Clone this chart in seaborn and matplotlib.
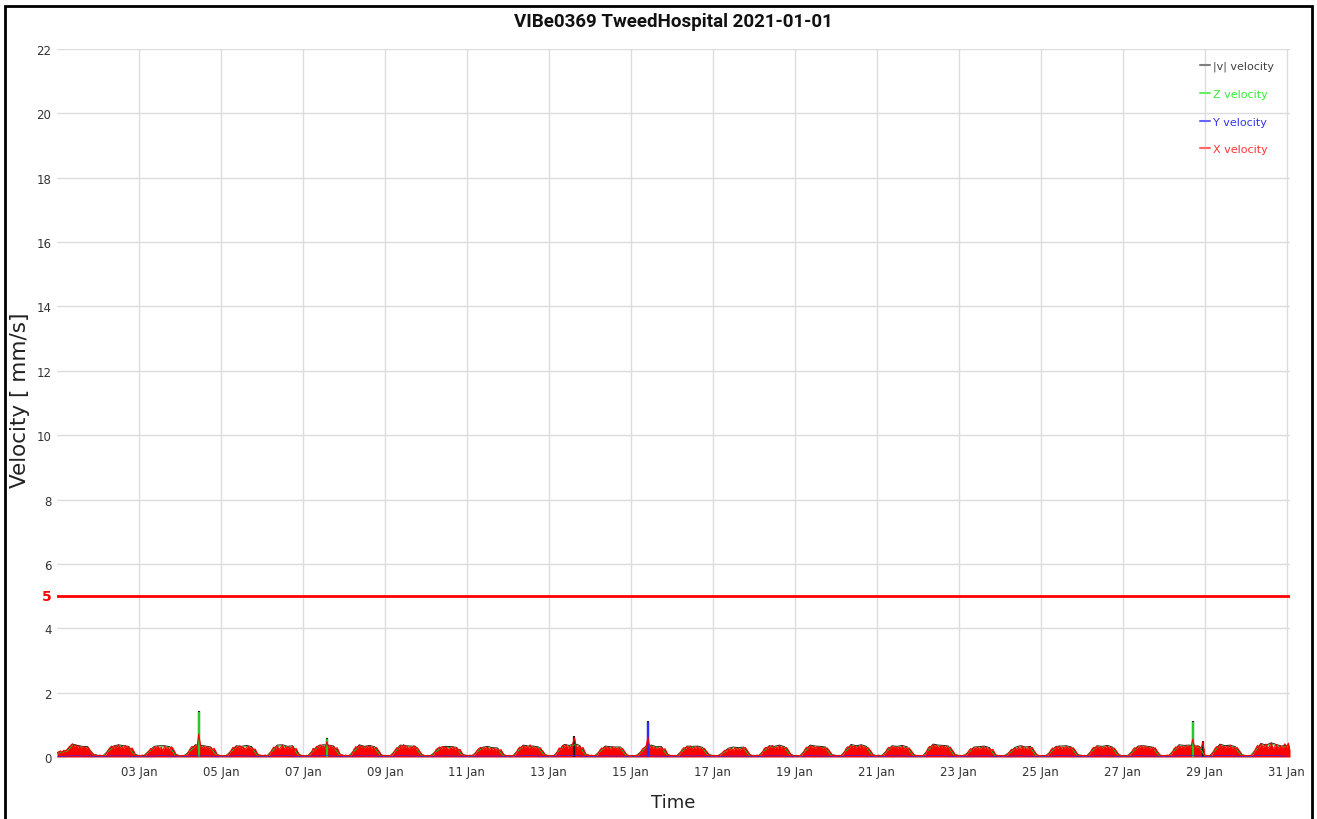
import numpy as np
import pandas as pd
import matplotlib
matplotlib.use("Agg")
import matplotlib.pyplot as plt
import matplotlib.dates as mdates
import matplotlib.transforms as mtransforms
from matplotlib.lines import Line2D
from matplotlib.patches import Rectangle
import seaborn as sns

# ---------------- data ----------------
title = "VIBe0369 TweedHospital 2021-01-01"
start_time = "2021-01-01 00:00"
threshold = 5
y_ticks = [0, 2, 4, 6, 8, 10, 12, 14, 16, 18, 20, 22]
series_labels = ["|v| velocity", "Z velocity", "Y velocity", "X velocity"]

# X velocity, hourly (one row per day, hours 0..23)
x_vel = [
    0.12,0.16,0.19,0.14,0.21,0.18,0.24,0.31,0.36,0.41,0.33,0.38,0.29,0.35,0.27,0.32,0.30,0.25,0.31,0.22,0.17,0.10,0.07,0.05,
    0.04,0.06,0.03,0.05,0.04,0.11,0.22,0.29,0.34,0.26,0.35,0.30,0.37,0.28,0.33,0.25,0.36,0.29,0.31,0.24,0.28,0.18,0.06,0.04,
    0.05,0.03,0.06,0.04,0.05,0.14,0.20,0.27,0.22,0.31,0.26,0.34,0.24,0.30,0.19,0.33,0.27,0.29,0.21,0.32,0.26,0.15,0.06,0.04,
    0.03,0.05,0.04,0.06,0.05,0.16,0.26,0.33,0.29,0.37,0.31,0.71,0.35,0.28,0.34,0.27,0.32,0.25,0.30,0.23,0.27,0.17,0.05,0.04,
    0.05,0.04,0.03,0.05,0.04,0.12,0.21,0.30,0.26,0.33,0.28,0.35,0.27,0.31,0.24,0.29,0.33,0.26,0.30,0.22,0.25,0.14,0.06,0.05,
    0.04,0.05,0.06,0.03,0.05,0.13,0.24,0.31,0.27,0.34,0.23,0.30,0.36,0.25,0.32,0.28,0.31,0.26,0.33,0.21,0.27,0.16,0.07,0.04,
    0.05,0.03,0.05,0.04,0.06,0.15,0.27,0.22,0.33,0.29,0.38,0.31,0.35,0.27,0.47,0.30,0.36,0.28,0.33,0.25,0.29,0.18,0.06,0.05,
    0.04,0.06,0.04,0.05,0.03,0.14,0.25,0.32,0.28,0.36,0.30,0.34,0.26,0.33,0.29,0.35,0.27,0.31,0.24,0.30,0.22,0.15,0.05,0.04,
    0.05,0.04,0.05,0.03,0.05,0.12,0.22,0.29,0.25,0.34,0.27,0.39,0.30,0.33,0.26,0.31,0.28,0.35,0.24,0.29,0.21,0.13,0.06,0.04,
    0.04,0.05,0.03,0.06,0.04,0.13,0.23,0.27,0.31,0.24,0.33,0.28,0.30,0.22,0.29,0.26,0.32,0.23,0.28,0.20,0.24,0.14,0.05,0.04,
    0.05,0.04,0.06,0.04,0.05,0.11,0.21,0.26,0.30,0.23,0.29,0.25,0.31,0.22,0.28,0.24,0.27,0.21,0.26,0.19,0.23,0.13,0.06,0.04,
    0.04,0.05,0.04,0.03,0.05,0.14,0.25,0.31,0.27,0.35,0.29,0.33,0.26,0.38,0.28,0.32,0.25,0.30,0.23,0.29,0.21,0.15,0.05,0.04,
    0.05,0.03,0.05,0.04,0.06,0.16,0.28,0.24,0.36,0.30,0.39,0.27,0.34,0.29,0.42,0.60,0.33,0.28,0.35,0.24,0.30,0.17,0.06,0.05,
    0.04,0.06,0.04,0.05,0.04,0.12,0.22,0.28,0.25,0.32,0.27,0.30,0.23,0.31,0.26,0.29,0.24,0.30,0.22,0.27,0.20,0.12,0.05,0.04,
    0.03,0.05,0.04,0.05,0.03,0.10,0.18,0.26,0.29,0.33,0.62,0.30,0.35,0.27,0.31,0.25,0.29,0.26,0.30,0.22,0.26,0.15,0.06,0.04,
    0.05,0.04,0.05,0.03,0.05,0.13,0.23,0.29,0.26,0.32,0.28,0.34,0.25,0.30,0.27,0.33,0.24,0.29,0.22,0.27,0.20,0.14,0.05,0.04,
    0.04,0.05,0.03,0.05,0.04,0.09,0.16,0.21,0.18,0.25,0.22,0.27,0.20,0.29,0.23,0.26,0.21,0.28,0.24,0.30,0.22,0.14,0.06,0.04,
    0.05,0.04,0.06,0.04,0.05,0.14,0.25,0.30,0.27,0.33,0.29,0.36,0.26,0.31,0.28,0.35,0.27,0.32,0.24,0.30,0.23,0.15,0.05,0.04,
    0.04,0.05,0.04,0.03,0.05,0.13,0.24,0.31,0.28,0.34,0.30,0.33,0.27,0.32,0.29,0.31,0.26,0.30,0.23,0.28,0.21,0.14,0.06,0.04,
    0.05,0.04,0.05,0.04,0.06,0.14,0.26,0.32,0.29,0.36,0.31,0.34,0.28,0.33,0.30,0.37,0.27,0.32,0.25,0.29,0.22,0.15,0.05,0.04,
    0.04,0.06,0.04,0.05,0.04,0.13,0.24,0.30,0.27,0.33,0.29,0.32,0.26,0.31,0.28,0.34,0.25,0.30,0.23,0.28,0.21,0.14,0.05,0.04,
    0.05,0.04,0.05,0.03,0.05,0.15,0.27,0.33,0.30,0.38,0.32,0.36,0.29,0.34,0.31,0.35,0.28,0.33,0.26,0.31,0.23,0.16,0.06,0.04,
    0.04,0.05,0.04,0.06,0.04,0.11,0.20,0.26,0.23,0.29,0.25,0.31,0.24,0.28,0.33,0.27,0.30,0.23,0.27,0.20,0.24,0.13,0.05,0.04,
    0.05,0.04,0.03,0.05,0.04,0.10,0.18,0.24,0.21,0.28,0.23,0.30,0.22,0.35,0.25,0.29,0.22,0.32,0.24,0.30,0.21,0.13,0.06,0.04,
    0.04,0.05,0.04,0.05,0.03,0.12,0.22,0.28,0.25,0.31,0.27,0.34,0.26,0.30,0.28,0.33,0.25,0.31,0.23,0.29,0.22,0.14,0.05,0.04,
    0.05,0.04,0.05,0.04,0.05,0.13,0.24,0.30,0.27,0.33,0.28,0.32,0.26,0.31,0.29,0.34,0.26,0.30,0.24,0.28,0.21,0.14,0.05,0.04,
    0.04,0.05,0.04,0.03,0.05,0.12,0.23,0.29,0.26,0.32,0.30,0.35,0.27,0.33,0.28,0.31,0.25,0.30,0.22,0.29,0.20,0.13,0.05,0.04,
    0.05,0.04,0.06,0.04,0.05,0.13,0.25,0.31,0.28,0.35,0.30,0.33,0.28,0.36,0.32,0.34,0.30,0.55,0.33,0.29,0.35,0.31,0.27,0.48,
    0.06,0.05,0.04,0.05,0.04,0.14,0.26,0.32,0.29,0.38,0.31,0.35,0.28,0.33,0.30,0.36,0.27,0.31,0.24,0.30,0.22,0.15,0.05,0.04,
    0.05,0.04,0.05,0.04,0.06,0.15,0.27,0.36,0.28,0.42,0.30,0.34,0.40,0.27,0.33,0.44,0.26,0.31,0.39,0.25,0.36,0.28,0.33,0.41,
    0.30,0.43,0.22,
]

# Z velocity, every 3 hours (one row per day: 00,03,06,09,12,15,18,21 h)
z_vel = [
    0.12,0.14,0.19,0.36,0.33,0.30,0.29,0.08,
    0.04,0.03,0.18,0.30,0.34,0.32,0.30,0.09,
    0.03,0.04,0.17,0.30,0.31,0.32,0.29,0.08,
    0.03,0.04,0.19,0.34,0.32,0.31,0.28,0.08,
    0.03,0.03,0.17,0.31,0.30,0.32,0.29,0.07,
    0.04,0.03,0.18,0.33,0.35,0.30,0.31,0.08,
    0.03,0.04,0.19,0.31,0.34,0.33,0.31,0.09,
    0.04,0.03,0.18,0.34,0.30,0.33,0.29,0.07,
    0.03,0.03,0.17,0.33,0.32,0.31,0.30,0.07,
    0.03,0.04,0.17,0.28,0.30,0.29,0.27,0.07,
    0.04,0.03,0.16,0.27,0.30,0.26,0.25,0.06,
    0.03,0.03,0.19,0.34,0.31,0.31,0.28,0.08,
    0.03,0.04,0.20,0.35,0.33,0.38,0.33,0.09,
    0.04,0.03,0.17,0.31,0.29,0.28,0.28,0.06,
    0.03,0.03,0.14,0.32,0.34,0.29,0.29,0.08,
    0.03,0.04,0.17,0.31,0.30,0.31,0.27,0.07,
    0.04,0.03,0.12,0.24,0.28,0.26,0.28,0.07,
    0.03,0.04,0.19,0.32,0.30,0.33,0.29,0.08,
    0.03,0.03,0.18,0.33,0.31,0.30,0.28,0.07,
    0.04,0.03,0.19,0.35,0.32,0.34,0.30,0.08,
    0.03,0.04,0.18,0.32,0.30,0.32,0.28,0.07,
    0.03,0.03,0.20,0.36,0.34,0.33,0.31,0.08,
    0.04,0.03,0.15,0.28,0.29,0.30,0.26,0.06,
    0.03,0.04,0.13,0.27,0.31,0.28,0.29,0.06,
    0.03,0.03,0.16,0.30,0.31,0.31,0.28,0.07,
    0.04,0.03,0.18,0.32,0.30,0.32,0.28,0.07,
    0.03,0.04,0.17,0.31,0.32,0.30,0.27,0.06,
    0.03,0.04,0.19,0.34,0.33,0.33,0.32,0.30,
    0.04,0.03,0.20,0.36,0.32,0.33,0.29,0.08,
    0.03,0.04,0.21,0.38,0.34,0.40,0.35,0.31,
    0.32,
]

# |v| velocity, every 3 hours
v_vel = [
    0.14,0.16,0.21,0.40,0.36,0.33,0.32,0.09,
    0.05,0.04,0.20,0.34,0.38,0.35,0.33,0.10,
    0.04,0.05,0.19,0.33,0.35,0.35,0.32,0.09,
    0.04,0.05,0.21,0.38,0.36,0.34,0.31,0.09,
    0.04,0.04,0.19,0.35,0.33,0.36,0.32,0.08,
    0.05,0.04,0.20,0.37,0.38,0.33,0.35,0.09,
    0.04,0.05,0.21,0.35,0.38,0.37,0.34,0.10,
    0.05,0.04,0.20,0.38,0.33,0.36,0.32,0.08,
    0.04,0.04,0.19,0.37,0.35,0.34,0.33,0.08,
    0.04,0.05,0.19,0.31,0.33,0.32,0.30,0.08,
    0.05,0.04,0.18,0.30,0.33,0.29,0.28,0.07,
    0.04,0.04,0.21,0.37,0.34,0.34,0.31,0.09,
    0.04,0.05,0.22,0.39,0.36,0.41,0.36,0.10,
    0.05,0.04,0.19,0.34,0.32,0.31,0.31,0.07,
    0.04,0.04,0.16,0.35,0.37,0.32,0.32,0.09,
    0.04,0.05,0.19,0.34,0.33,0.34,0.30,0.08,
    0.05,0.04,0.14,0.27,0.31,0.29,0.31,0.08,
    0.04,0.05,0.21,0.35,0.33,0.37,0.32,0.09,
    0.04,0.04,0.20,0.37,0.34,0.33,0.31,0.08,
    0.05,0.04,0.21,0.39,0.35,0.38,0.33,0.09,
    0.04,0.05,0.20,0.35,0.33,0.36,0.31,0.08,
    0.04,0.04,0.22,0.40,0.37,0.36,0.34,0.09,
    0.05,0.04,0.17,0.31,0.32,0.34,0.29,0.07,
    0.04,0.05,0.15,0.30,0.35,0.31,0.33,0.07,
    0.04,0.04,0.18,0.33,0.34,0.35,0.31,0.08,
    0.05,0.04,0.20,0.35,0.33,0.36,0.31,0.08,
    0.04,0.05,0.19,0.34,0.35,0.33,0.30,0.07,
    0.04,0.05,0.21,0.38,0.36,0.37,0.35,0.33,
    0.05,0.04,0.22,0.40,0.35,0.37,0.32,0.09,
    0.04,0.05,0.23,0.42,0.37,0.44,0.39,0.34,
    0.36,
]

# Y velocity, every 3 hours
y_vel = [
    0.02,0.02,0.03,0.04,0.04,0.03,0.04,0.02,
    0.01,0.01,0.03,0.04,0.03,0.04,0.03,0.02,
    0.01,0.01,0.03,0.03,0.04,0.04,0.03,0.02,
    0.01,0.01,0.04,0.04,0.03,0.04,0.03,0.02,
    0.01,0.01,0.03,0.04,0.04,0.03,0.03,0.02,
    0.01,0.01,0.03,0.04,0.04,0.04,0.03,0.02,
    0.01,0.01,0.04,0.03,0.04,0.04,0.03,0.02,
    0.01,0.01,0.03,0.04,0.03,0.04,0.03,0.02,
    0.01,0.01,0.03,0.04,0.04,0.03,0.03,0.02,
    0.01,0.01,0.03,0.03,0.04,0.03,0.03,0.02,
    0.01,0.01,0.03,0.03,0.03,0.03,0.03,0.02,
    0.01,0.01,0.03,0.04,0.04,0.04,0.03,0.02,
    0.01,0.01,0.04,0.04,0.04,0.05,0.04,0.02,
    0.01,0.01,0.03,0.04,0.03,0.03,0.03,0.02,
    0.01,0.01,0.03,0.04,0.04,0.03,0.03,0.02,
    0.01,0.01,0.03,0.04,0.03,0.04,0.03,0.02,
    0.01,0.01,0.02,0.03,0.03,0.03,0.03,0.02,
    0.01,0.01,0.03,0.04,0.03,0.04,0.03,0.02,
    0.01,0.01,0.03,0.04,0.04,0.03,0.03,0.02,
    0.01,0.01,0.04,0.04,0.04,0.04,0.03,0.02,
    0.01,0.01,0.03,0.04,0.03,0.04,0.03,0.02,
    0.01,0.01,0.04,0.04,0.04,0.04,0.03,0.02,
    0.01,0.01,0.03,0.03,0.03,0.04,0.03,0.02,
    0.01,0.01,0.03,0.03,0.04,0.03,0.03,0.02,
    0.01,0.01,0.03,0.04,0.04,0.04,0.03,0.02,
    0.01,0.01,0.03,0.04,0.03,0.04,0.03,0.02,
    0.01,0.01,0.03,0.04,0.04,0.03,0.03,0.02,
    0.01,0.01,0.03,0.04,0.04,0.04,0.04,0.03,
    0.01,0.01,0.04,0.04,0.04,0.04,0.03,0.02,
    0.01,0.01,0.04,0.05,0.04,0.05,0.04,0.03,
    0.03,
]

# short isolated spikes
v_spike_times = ["2021-01-04 11:00", "2021-01-07 14:00", "2021-01-13 15:00", "2021-01-15 10:00", "2021-01-28 17:00", "2021-01-28 23:00"]
v_spike_vals = [1.43, 0.58, 0.66, 1.11, 1.12, 0.51]
z_spike_times = ["2021-01-04 11:00", "2021-01-07 14:00", "2021-01-28 17:00"]
z_spike_vals = [1.40, 0.56, 1.09]
y_spike_times = ["2021-01-15 10:00"]
y_spike_vals = [1.08]

# ---------------- styling ----------------
c_v, c_z, c_y, c_x = "#1e1e1e", "#22cc22", "#2b2bff", "#ff0000"
leg_line_cols = ["#808080", "#66ee66", "#6666ff", "#ff6666"]
leg_text_cols = ["#404040", "#33ee33", "#3333ee", "#ff3333"]

sns.set_theme(style="whitegrid")
plt.rcParams['font.family'] = ['DejaVu Sans']

W, H = 1317, 820
fig = plt.figure(figsize=(W / 100, H / 100), dpi=100)
fig.patch.set_facecolor("white")
ax_l, ax_r, ax_t, ax_b = 57, 1290, 50, 758
ax = fig.add_axes([ax_l / W, 1 - ax_b / H, (ax_r - ax_l) / W, (ax_b - ax_t) / H])
ax.set_facecolor("white")

t_x = pd.date_range(start_time, periods=len(x_vel), freq="h")
t_3h = pd.date_range(start_time, periods=len(z_vel), freq="3h")

df_x = pd.DataFrame({"time": t_x, "vel": x_vel})
df_3 = pd.DataFrame({"time": t_3h, "v": v_vel, "z": z_vel, "y": y_vel})

# |v|
sns.lineplot(data=df_3, x="time", y="v", ax=ax, color=c_v, lw=0.7)
ax.vlines(pd.to_datetime(v_spike_times), 0, v_spike_vals, colors=c_v, lw=1.6)
# Z
sns.lineplot(data=df_3, x="time", y="z", ax=ax, color=c_z, lw=0.7)
ax.vlines(pd.to_datetime(z_spike_times), 0, z_spike_vals, colors=c_z, lw=1.6)
# Y
sns.lineplot(data=df_3, x="time", y="y", ax=ax, color=c_y, lw=0.5)
ax.vlines(pd.to_datetime(y_spike_times), 0, y_spike_vals, colors=c_y, lw=1.6)
# X (on top)
ax.fill_between(df_x["time"], 0, df_x["vel"], color=c_x, lw=0)
sns.lineplot(data=df_x, x="time", y="vel", ax=ax, color=c_x, lw=0.8)

# threshold
ax.axhline(threshold, color="red", lw=2, zorder=3)
trans = mtransforms.blended_transform_factory(ax.transAxes, ax.transData)
ax.text(-0.004, threshold, str(threshold), transform=trans, ha="right", va="center",
        color="red", fontweight="bold", fontsize=10)

# axes
ax.set_xlim(t_x[0], t_x[-1])
ax.set_ylim(0, 22)
ax.set_yticks(y_ticks)
ax.xaxis.set_major_locator(mdates.DayLocator(bymonthday=range(3, 32, 2)))
ax.xaxis.set_major_formatter(mdates.DateFormatter("%d Jan"))
ax.tick_params(axis="both", length=0, labelsize=8.5, colors="#333333")
ax.tick_params(axis="x", pad=6)
ax.tick_params(axis="y", pad=4)
ax.grid(True, color="#dcdcdc", lw=1)
ax.set_axisbelow(True)
for s in ax.spines.values():
    s.set_visible(False)
ax.set_xlabel("")
ax.set_ylabel("")

fig.text(20 / W, 1 - 400 / H, "Velocity [ mm/s]", rotation=90, ha="center", va="center",
         fontsize=15.5, color="#222222")
fig.text(673 / W, 1 - 803 / H, "Time", ha="center", va="center", fontsize=13, color="#222222")
fig.text(673 / W, 1 - 22 / H, title, ha="center", va="center", fontsize=13.5,
         fontweight="bold", color="#111111", family=["Roboto", "DejaVu Sans"])

# legend
handles = [Line2D([0], [0], color=c, lw=1.5) for c in leg_line_cols]
leg = ax.legend(handles, series_labels, loc="upper left",
                bbox_to_anchor=((1200 - ax_l) / (ax_r - ax_l), 1 - (62 - ax_t) / (ax_b - ax_t)),
                frameon=False, fontsize=8, handlelength=0.9, handletextpad=0.3,
                labelspacing=1.58, borderaxespad=0, borderpad=0)
for txt, col in zip(leg.get_texts(), leg_text_cols):
    txt.set_color(col)

# outer frame
fig.patches.append(Rectangle((5 / W, -0.01), (1312 - 5) / W, 1 - 7 / H + 0.01,
                             transform=fig.transFigure, fill=False, lw=2, ec="black"))

fig.savefig("out.png", dpi=100)
